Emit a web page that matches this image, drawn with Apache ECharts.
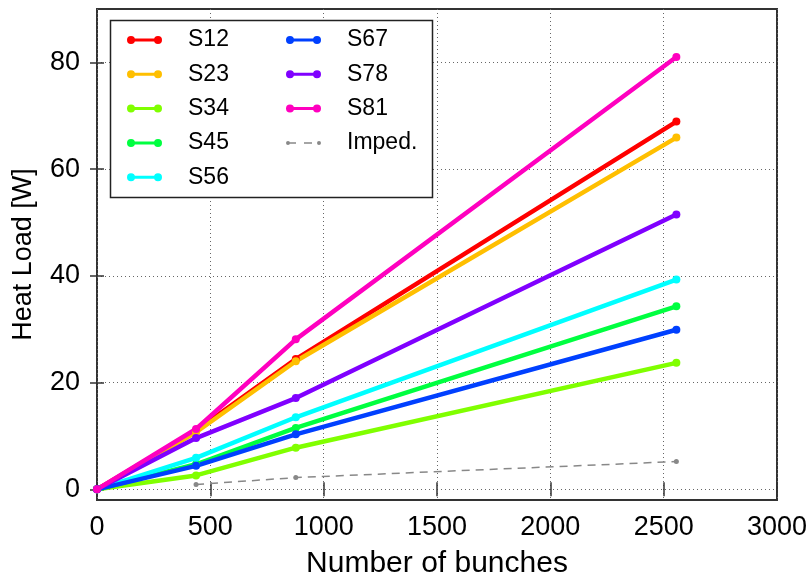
<!DOCTYPE html>
<html>
<head>
<meta charset="utf-8">
<script src="https://cdn.jsdelivr.net/npm/echarts@6/dist/echarts.min.js"></script>
<style>
html,body{margin:0;padding:0;background:#fff;}
#main{width:811px;height:576px;}
</style>
</head>
<body>
<div id="main"></div>
<script>
// 横轴：束团数
var bunches = [0, 437, 877, 2556];
var bunchesImp = [437, 877, 2556];
// 各扇区热负载 (W)
var S12 = [0, 11.0, 24.4, 68.9];
var S23 = [0, 10.7, 24.0, 65.9];
var S34 = [0, 2.6, 7.8, 23.7];
var S45 = [0, 4.7, 11.5, 34.3];
var S56 = [0, 5.9, 13.5, 39.3];
var S67 = [0, 4.4, 10.3, 29.9];
var S78 = [0, 9.6, 17.1, 51.5];
var S81 = [0, 11.3, 28.1, 81.0];
var imped = [0.9, 2.2, 5.2];
var yTicks = [0, 20, 40, 60, 80];

var names = ['S12', 'S23', 'S34', 'S45', 'S56', 'S67', 'S78', 'S81'];
var values = [S12, S23, S34, S45, S56, S67, S78, S81];
var colors = ['#ff0000', '#ffbf00', '#80ff00', '#00ff40', '#00ffff', '#0040ff', '#8000ff', '#ff00bf'];

var FONT = 'Liberation Sans, Arial, sans-serif';
var ICON_LINE = 'path://M0,4 A4,4 0 1,1 8,4 A4,4 0 1,1 0,4 Z M4,2.5 L31,2.5 L31,5.5 L4,5.5 Z M27,4 A4,4 0 1,1 35,4 A4,4 0 1,1 27,4 Z';
var ICON_DASH = 'path://M0,2 A2,2 0 1,1 4,2 A2,2 0 1,1 0,2 Z M3,1.25 L10,1.25 L10,2.75 L3,2.75 Z M18,1.25 L26,1.25 L26,2.75 L18,2.75 Z M31,2 A2,2 0 1,1 35,2 A2,2 0 1,1 31,2 Z';

function pairs(xs, ys){
    var list = [];
    for(var i=0;i<xs.length;i++){
        list.push([xs[i], ys[i]]);
    }
    return list;
}

var series = [];
for(var i=0;i<names.length;i++){
    series.push({
        name:names[i], type:'line', data:pairs(bunches, values[i]),
        symbol:'circle', symbolSize:8, color:colors[i],
        lineStyle:{width:4.5, color:colors[i]}, itemStyle:{color:colors[i]},
        emphasis:{disabled:true}, animation:false
    });
}
series.push({
    name:'Imped.', type:'line', data:pairs(bunchesImp, imped),
    symbol:'circle', symbolSize:5, color:'#888888',
    lineStyle:{width:1.5, color:'#888888', type:[8, 6]}, itemStyle:{color:'#888888'},
    emphasis:{disabled:true}, animation:false
});

var legendText = {fontFamily:FONT, fontSize:23, color:'#000', lineHeight:24, padding:[0,0,0,21]};
function legendData(list){
    return list.map(function(n){ return {name:n, icon:(n=='Imped.' ? ICON_DASH : ICON_LINE)}; });
}

var splitStyle = {show:true, lineStyle:{color:'#666', width:1, type:[1, 3]}};
var tickStyle = {show:true, inside:true, length:7, lineStyle:{color:'#333', width:1.5}};

var option = {
    backgroundColor:'#fff',
    animation:false,
    grid:{left:97, right:34, top:9, bottom:76, show:true, borderColor:'#333', borderWidth:2,
        backgroundColor:'transparent', outerBoundsMode:'none', containLabel:false},
    graphic:[{
        type:'rect', z:5, shape:{x:110.5, y:20.5, width:322, height:177},
        style:{fill:'#fff', stroke:'#222', lineWidth:1.5}
    }],
    legend:[{
        orient:'vertical', left:127, top:28, itemGap:10.3, itemWidth:35, itemHeight:8, padding:0, z:10,
        selectedMode:false, textStyle:legendText,
        data:legendData(['S12', 'S23', 'S34', 'S45', 'S56'])
    },{
        orient:'vertical', left:286, top:28, itemGap:10.3, itemWidth:35, itemHeight:8, padding:0, z:10,
        selectedMode:false, textStyle:legendText,
        data:legendData(['S67', 'S78', 'S81', 'Imped.'])
    }],
    xAxis:[{
        type:'value', min:0, max:3000, interval:500, position:'bottom',
        name:'Number of bunches', nameLocation:'middle', nameGap:49,
        nameTextStyle:{fontFamily:FONT, fontSize:30, color:'#000'},
        axisLine:{show:false}, axisTick:tickStyle, splitLine:splitStyle,
        axisLabel:{fontFamily:FONT, fontSize:27, color:'#000', margin:14,
            formatter:function(v){ return String(v); }}
    },{
        type:'value', min:0, max:3000, interval:500, position:'top',
        axisLine:{show:false}, axisTick:tickStyle, splitLine:{show:false}, axisLabel:{show:false}
    }],
    yAxis:[{
        type:'value', min:-2, max:90, position:'left',
        name:'Heat Load [W]', nameLocation:'middle', nameGap:60, nameRotate:90,
        nameTextStyle:{fontFamily:FONT, fontSize:27, color:'#000'},
        axisLine:{show:false},
        axisTick:{show:true, inside:true, length:7, lineStyle:{color:'#333', width:1.5}, customValues:yTicks},
        splitLine:splitStyle,
        axisLabel:{fontFamily:FONT, fontSize:27, color:'#000', margin:17, customValues:yTicks}
    },{
        type:'value', min:-2, max:90, position:'right',
        axisLine:{show:false},
        axisTick:{show:true, inside:true, length:7, lineStyle:{color:'#333', width:1.5}, customValues:yTicks},
        splitLine:{show:false}, axisLabel:{show:false}
    }],
    series:series
};

var myChart = echarts.init(document.getElementById('main'));
myChart.setOption(option);
</script>
</body>
</html>
